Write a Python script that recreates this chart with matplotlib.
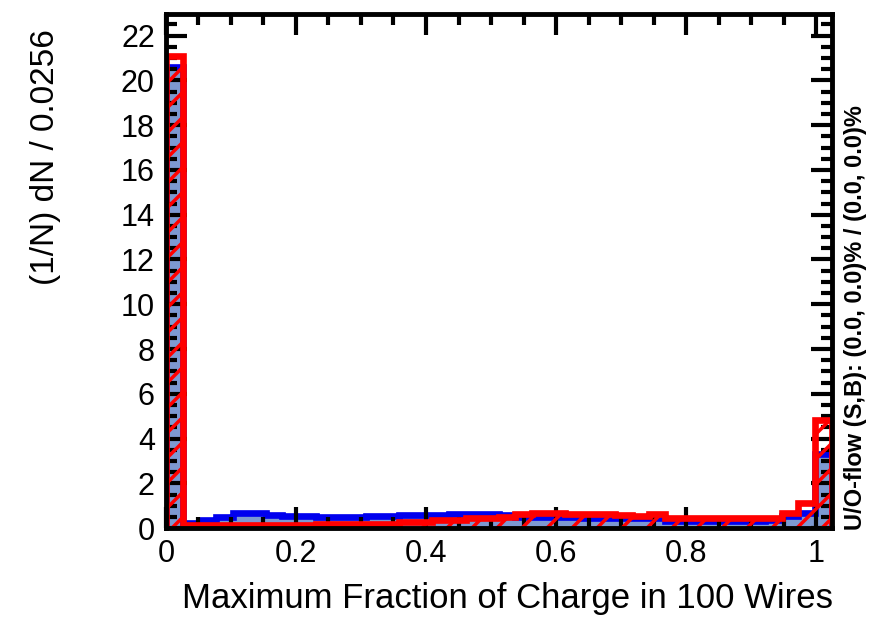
import numpy as np
import matplotlib
matplotlib.use("Agg")
import matplotlib.pyplot as plt
from matplotlib.ticker import MultipleLocator

# render at 75 dpi so the hatch tile (one inch) gives a ROOT-like spacing;
# all point sizes are scaled up to keep their pixel size
DPI = 75
K = 100 / DPI

plt.rcParams['font.family'] = ['Liberation Sans', 'DejaVu Sans']
plt.rcParams['hatch.color'] = 'red'
plt.rcParams['hatch.linewidth'] = 2.5 * K

# 40 bins of width 0.0256 on [0, 1.024]
bin_edges = np.linspace(0.0, 1.024, 41)

# normalised signal distribution (1/N dN / 0.0256)
signal = [20.6, 0.25, 0.36, 0.50, 0.68, 0.68, 0.61, 0.55, 0.55, 0.50,
          0.49, 0.49, 0.54, 0.54, 0.59, 0.59, 0.59, 0.64, 0.64, 0.64,
          0.60, 0.48, 0.48, 0.48, 0.48, 0.46, 0.46, 0.45, 0.45, 0.44,
          0.34, 0.33, 0.33, 0.33, 0.33, 0.34, 0.36, 0.55, 0.70, 3.30]

# normalised background distribution
background = [21.1, 0.15, 0.15, 0.15, 0.15, 0.15, 0.15, 0.15, 0.15, 0.17,
              0.19, 0.19, 0.19, 0.19, 0.28, 0.28, 0.36, 0.36, 0.46, 0.46,
              0.50, 0.62, 0.68, 0.68, 0.62, 0.62, 0.62, 0.60, 0.55, 0.62,
              0.47, 0.46, 0.45, 0.45, 0.45, 0.45, 0.47, 0.67, 1.14, 4.84]

fig = plt.figure(figsize=(869 / DPI, 620 / DPI), dpi=DPI)
ax = fig.add_axes([0.191, 0.148, 0.766, 0.829])

# signal: filled histogram with dark blue outline
ax.stairs(signal, bin_edges, fill=True, color='#7d99d1', linewidth=0, zorder=1)
ax.stairs(signal, bin_edges, color='#0000ee', linewidth=4.8 * K, zorder=1.5)

# background: red hatched histogram on top
ax.stairs(background, bin_edges, fill=True, facecolor='none', edgecolor='red',
          hatch='/', linewidth=0, zorder=1.6)
ax.stairs(background, bin_edges, color='red', linewidth=4.8 * K, zorder=1.7)

ax.set_xlim(0, 1.024)
ax.set_ylim(0, 22.95)

ax.xaxis.set_minor_locator(MultipleLocator(0.05))
ax.yaxis.set_major_locator(MultipleLocator(2))
ax.yaxis.set_minor_locator(MultipleLocator(0.5))
ax.set_xticks([0, 0.2, 0.4, 0.6, 0.8, 1.0])
ax.set_xticklabels(['0', '0.2', '0.4', '0.6', '0.8', '1'])

ax.tick_params(which='both', direction='in', top=True, right=True, width=3 * K,
               labelsize=22 * K, colors='black')
ax.tick_params(which='major', length=15 * K, pad=8 * K)
ax.tick_params(which='minor', length=8 * K)
for s in ax.spines.values():
    s.set_linewidth(3.5 * K)

# axis titles placed as in ROOT: right-aligned x title, top-aligned y title
fig.text(0.958, 0.035, 'Maximum Fraction of Charge in 100 Wires',
         fontsize=25 * K, ha='right', va='center')
fig.text(0.052, 0.747, '(1/N) dN / 0.0256', fontsize=24 * K, rotation=90,
         ha='center', va='center')

fig.text(0.984, 0.145, 'U/O-flow (S,B): (0.0, 0.0)% / (0.0, 0.0)%',
         rotation=90, fontsize=17 * K, fontweight='bold', ha='center',
         va='bottom')

fig.savefig('out.png', dpi=DPI)
